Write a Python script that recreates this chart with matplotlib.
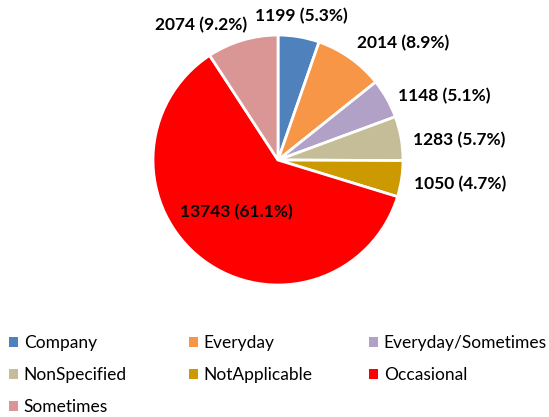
import numpy as np
import matplotlib
matplotlib.use("Agg")
import matplotlib.pyplot as plt
from matplotlib.patches import Patch

categories = ["Company", "Everyday", "Everyday/Sometimes", "NonSpecified",
              "NotApplicable", "Occasional", "Sometimes"]
values = [1199, 2014, 1148, 1283, 1050, 13743, 2074]
percent_labels = ["5.3%", "8.9%", "5.1%", "5.7%", "4.7%", "61.1%", "9.2%"]
colors = ["#4f81bd", "#f79646", "#b2a1c7", "#c4bd97", "#cc9900", "#ff0000", "#d99694"]

plt.rcParams['font.family'] = ['Lato', 'DejaVu Sans']

fig = plt.figure(figsize=(5.49, 4.17), dpi=100)
ax = fig.add_axes([0.2787, 0.3165, 0.4554, 0.5995])
wedges, _ = ax.pie(values, colors=colors, startangle=90, counterclock=False,
                   wedgeprops=dict(edgecolor="white", linewidth=2), radius=1.0)
ax.set_xlim(-1, 1)
ax.set_ylim(-1, 1)
ax.set_aspect('auto')

total = sum(values)
for w, v, p in zip(wedges, values, percent_labels):
    ang = np.deg2rad((w.theta1 + w.theta2) / 2)
    c, s = np.cos(ang), np.sin(ang)
    txt = f"{v} ({p})"
    if v / total > 0.5:
        ax.text(0.55 * c, 0.52 * s, txt, ha="center", va="center",
                fontsize=12.5, fontweight="bold")
        continue
    r = 1.1
    if c < -0.2:
        ax.text(r * c + 0.07, r * s - 0.04, txt, ha="right", va="bottom",
                fontsize=12.5, fontweight="bold", clip_on=False)
        continue
    ha = "left" if c > 0.3 else "center"
    va = "bottom" if s > 0.8 else "center"
    dy = 0.0 if c <= 0.3 else -0.03
    ax.text(r * c, r * s + dy, txt, ha=ha, va=va, fontsize=12.5, fontweight="bold",
            clip_on=False)

# legend laid out row by row in three columns
ncols = 3
col_x = [9 / 549, 189 / 549, 369 / 549]
for j in range(ncols):
    idx = list(range(j, len(categories), ncols))
    handles = [Patch(facecolor=colors[i], edgecolor="none") for i in idx]
    labels = [categories[i] for i in idx]
    fig.legend(handles, labels, loc="upper left",
               bbox_to_anchor=(col_x[j], 0.1966), frameon=False, fontsize=12.5,
               handlelength=0.5, handleheight=0.5, handletextpad=0.35,
               labelspacing=0.92, borderpad=0, borderaxespad=0)

fig.savefig("out.png", dpi=100)
